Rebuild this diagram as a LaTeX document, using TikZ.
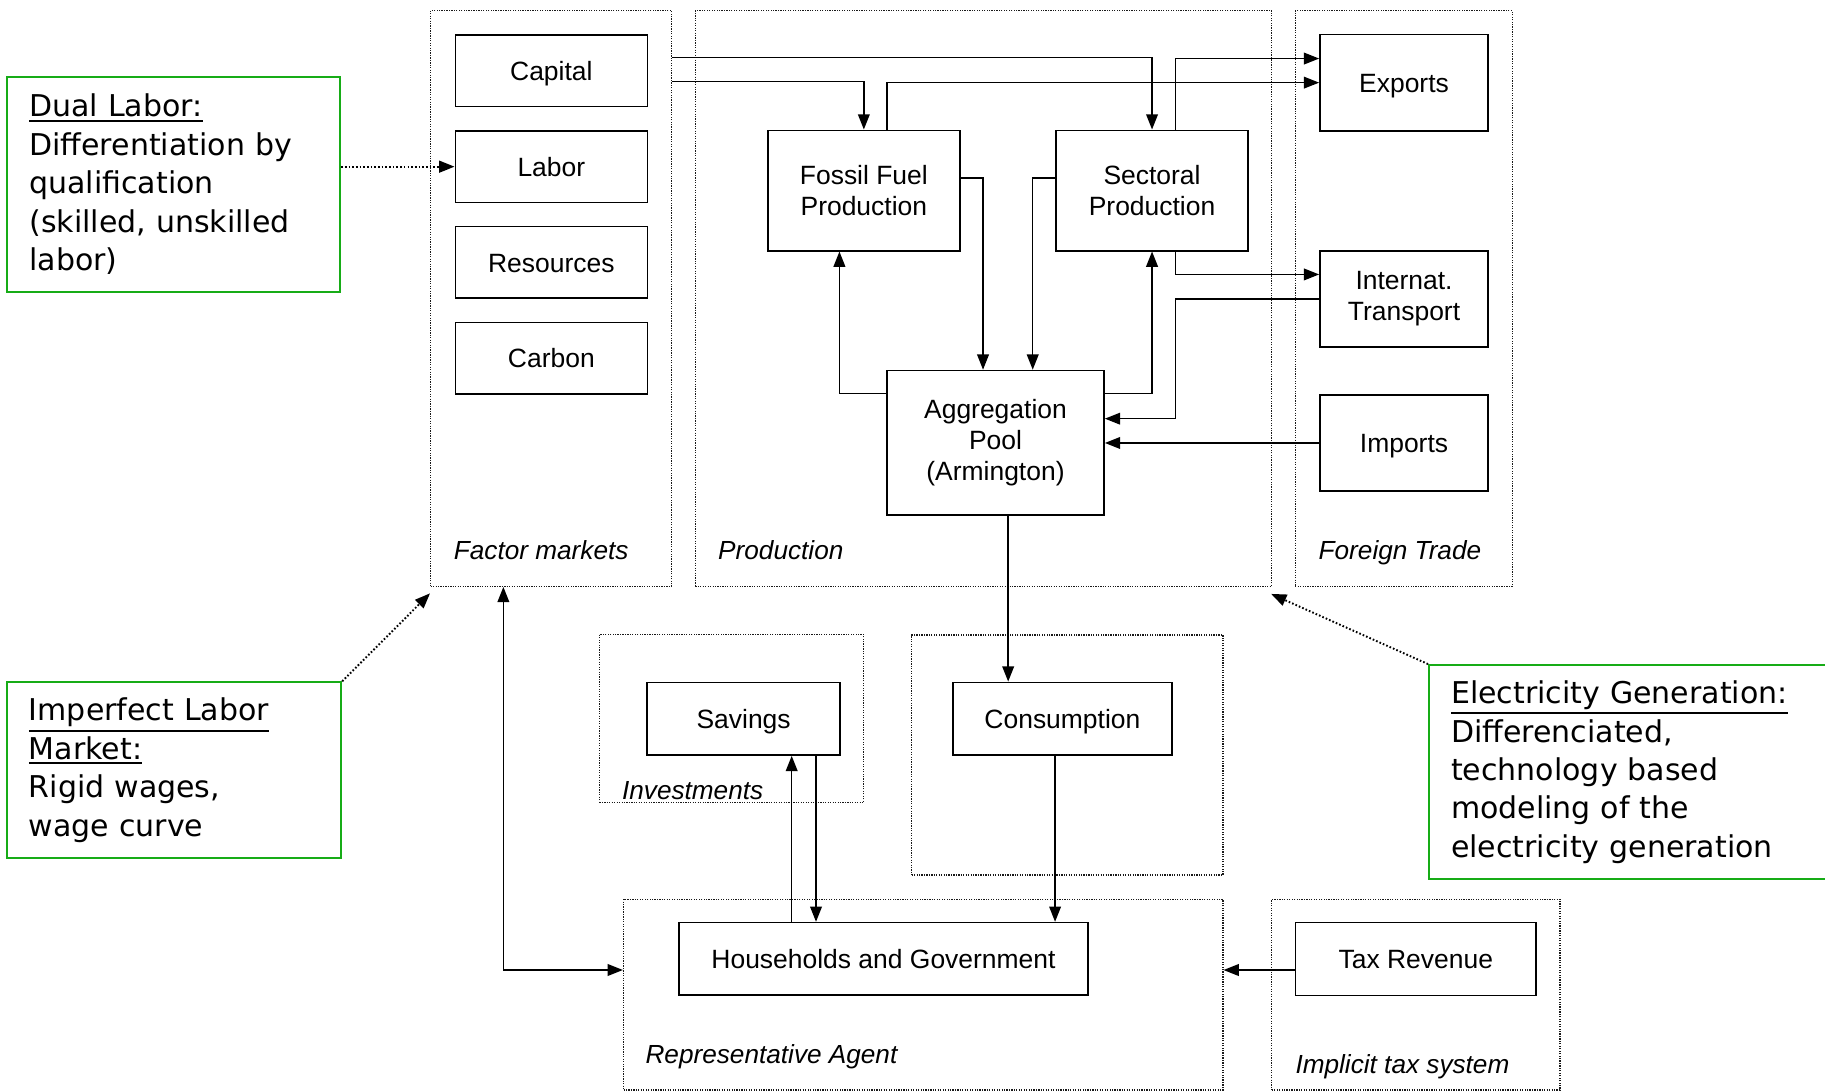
\documentclass[tikz,border=0pt]{standalone}
\usepackage{fontspec}
\setmainfont{Liberation Sans}
\newfontfamily\notefont{DejaVu Sans}
\usetikzlibrary{arrows.meta,calc}
\definecolor{notegreen}{HTML}{17AC17}
\newcommand{\ulhead}[1]{\leavevmode\vtop{\hbox{#1}\kern0.9pt\hrule height 0.8pt}}

\begin{document}
\begin{tikzpicture}[x=0.015cm, y=-0.015cm,
  sz/.style 2 args={minimum width=#1*0.015cm, minimum height=#2*0.015cm},
  blk/.style={rectangle, draw, line width=0.6pt, inner sep=0pt, align=center, font=\fontsize{9.7}{11.5}\selectfont},
  one/.style={text height=7pt, text depth=0pt},
  grp/.style={rectangle, draw=black!90, line width=0.45pt, dash pattern=on 0.45pt off 0.45pt, inner sep=0pt},
  glab/.style={anchor=base west, inner sep=0pt, font=\fontsize{9.6}{11.5}\selectfont\itshape},
  gbox/.style={rectangle, draw=notegreen, line width=0.75pt, inner xsep=0.285cm, inner ysep=0pt, align=left, font=\notefont\fontsize{11}{14.1}\selectfont},
  arr/.style={-{Triangle[length=5.6pt, width=4.3pt]}, line width=0.55pt},
  arrb/.style={{Triangle[length=5.6pt, width=4.3pt]}-{Triangle[length=5.6pt, width=4.3pt]}, line width=0.55pt},
  hint/.style={-{Triangle[length=5.6pt, width=4.3pt]}, line width=0.7pt, dash pattern=on 0.6pt off 0.75pt}
]
  \clip (0,0) rectangle (1568,937);

  % groups
  \node[grp, sz={207}{494.7}]   (fm)   at (473.5,256.4) {};
  \node[grp, sz={495.2}{494.5}] (prod) at (845,256.5)   {};
  \node[grp, sz={186.4}{494.5}] (ft)   at (1206,256.5)  {};
  \node[grp, sz={227}{144.6}]   (inv)  at (628.5,617.3) {};
  \node[grp, sz={267.5}{206.2}] (cg)   at (917,648.7)   {};
  \node[grp, sz={515}{163.8}]   (ra)   at (793.2,854.6) {};
  \node[grp, sz={247.7}{163.8}] (tg)   at (1216.5,854.6) {};

  \node[glab] (fmlab)  at (389.5,481)   {Factor markets};
  \node[glab] (prlab)  at (616.6,481)   {Production};
  \node[glab] (ftlab)  at (1132.5,481)  {Foreign Trade};
  \node[glab] (invlab) at (534,687)     {Investments};
  \node[glab] (ralab)  at (554.2,913.6) {Representative Agent};
  \node[glab] (tglab)  at (1112.6,922.2) {Implicit tax system};

  % boxes
  \node[blk, one, sz={165}{61.6}]    (cap)  at (473.7,60.8)   {Capital};
  \node[blk, one, sz={165}{61.6}]    (lab)  at (473.7,143.2)  {Labor};
  \node[blk, one, sz={165}{61.6}]    (res)  at (473.7,225.5)  {Resources};
  \node[blk, one, sz={165}{61.6}]    (car)  at (473.7,307.9)  {Carbon};
  \node[blk, sz={165.2}{103.4}]      (ffp)  at (742.2,163.7)  {Fossil Fuel\\Production};
  \node[blk, sz={165.2}{103.4}]      (sec)  at (989.8,163.7)  {Sectoral\\Production};
  \node[blk, sz={186.6}{123.9}]      (agg)  at (855.3,380.3)  {Aggregation\\Pool\\(Armington)};
  \node[blk, one, sz={144.5}{82.9}]  (expo) at (1206.3,71)    {Exports};
  \node[blk, sz={144.5}{82.5}]       (trn)  at (1206.3,256.7) {Internat.\\Transport};
  \node[blk, one, sz={144.5}{82.4}]  (impt) at (1206.3,380.6) {Imports};
  \node[blk, one, sz={166}{62.4}]    (sav)  at (638.9,617.5)  {Savings};
  \node[blk, one, sz={187.9}{62.4}]  (cons) at (912.8,617.5)  {Consumption};
  \node[blk, one, sz={351.7}{62.2}]  (hh)   at (759.1,823.8)  {Households and Government};
  \node[blk, one, sz={206.5}{62.5}]  (tax)  at (1216.4,823.9) {Tax Revenue};

  % notes
  \node[gbox, text width=3.72cm, minimum height=2.763cm] (ndual) at (149.3,158.5)
    {\ulhead{Dual Labor:}\\Differentiation by\\qualification\\(skilled, unskilled\\labor)};
  \node[gbox, text width=3.74cm, minimum height=2.268cm] (nimperf) at (149.5,661.8)
    {\ulhead{Imperfect Labor}\\\ulhead{Market:}\\Rigid wages,\\wage curve};
  \node[gbox, text width=4.71cm, minimum height=2.76cm] (nelec) at (1403.8,663.45)
    {\ulhead{Electricity Generation:}\\Differenciated,\\technology based\\modeling of the\\electricity generation};

  \coordinate (sx) at ($(sec.south)+(20,0)$);
  \coordinate (ax) at ($(agg.south)+(10.9,0)$);
  \coordinate (cx) at ($(cons.south)+(-6.3,0)$);
  \coordinate (s1) at ($(sav.south)+(41.3,0)$);
  \coordinate (s2) at ($(sav.south)+(62.2,0)$);
  \coordinate (fx) at ($(fm.south west)+(63,0)$);
  \coordinate (tx) at ($(tax.west)+(0,9.5)$);

  \draw[arr] ($(fm.north east)+(0,41)$) -| (sec.north);
  \draw[arr] ($(fm.north east)+(0,61.5)$) -| (ffp.north);
  \draw[arr] ($(ffp.north)+(20,0)$) |- (expo.west);
  \draw[arr] ($(sec.north)+(20,0)$) |- ($(expo.west)+(0,-20.7)$);
  \draw[arr] ($(ffp.east)+(0,-10.8)$) -| ($(agg.north)+(-10.7,0)$);
  \draw[arr] ($(sec.west)+(0,-10.8)$) -| ($(agg.north)+(32,0)$);
  \draw[arr] ($(agg.north west)+(0,20.4)$) -| ($(ffp.south)+(-21,0)$);
  \draw[arr] ($(agg.north east)+(0,20.4)$) -| (sec.south);
  \draw[arr] (sx) |- ($(trn.west)+(0,-20.9)$);
  \draw[arr] (trn.west) -- (trn.west -| sx) |- ($(agg.east)+(0,-20.6)$);
  \draw[arr] (impt.west) -- (impt.west -| agg.east);
  \draw[arr] (ax) -- (ax |- cons.north);
  \draw[arr] (cx) -- (cx |- hh.north);
  \draw[arr] (s1 |- hh.north) -- (s1);
  \draw[arr] (s2) -- (s2 |- hh.north);
  \draw[arrb] (fx) |- (tx -| ra.west);
  \draw[arr] (tx) -- (tx -| ra.east);

  \draw[hint] (ndual.east |- lab.west) -- (lab.west);
  \draw[hint] (nimperf.north east) -- ($(fm.south west)+(0,5.5)$);
  \draw[hint] (nelec.north west) -- ($(prod.south east)+(-1,6)$);
\end{tikzpicture}
\end{document}
